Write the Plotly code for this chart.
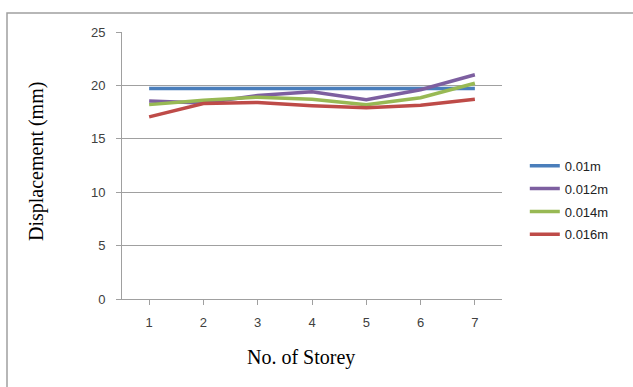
import plotly.graph_objects as go

storeys = [1, 2, 3, 4, 5, 6, 7]
series_names = ["0.01m", "0.012m", "0.014m", "0.016m"]
disp_001 = [19.7, 19.7, 19.7, 19.7, 19.7, 19.7, 19.7]
disp_0012 = [18.55, 18.35, 19.05, 19.4, 18.65, 19.6, 21.0]
disp_0014 = [18.2, 18.6, 18.9, 18.7, 18.2, 18.85, 20.2]
disp_0016 = [17.05, 18.3, 18.4, 18.1, 17.9, 18.15, 18.7]
colors = ["#4a7ebb", "#7d5fa0", "#98b954", "#be4b48"]
y_ticks = [0, 5, 10, 15, 20, 25]

fig = go.Figure()
for name, vals, col in zip(series_names, [disp_001, disp_0012, disp_0014, disp_0016], colors):
    fig.add_trace(go.Scatter(
        x=[str(s) for s in storeys], y=vals, mode="lines", name=name,
        legendgroup=name, line=dict(color=col, width=3.5),
    ))

axis_font = dict(family="Liberation Sans, Arial, sans-serif", size=13, color="#404040")
title_font = dict(family="Liberation Serif, Times New Roman, serif", size=20, color="#000000")

fig.update_layout(
    width=633, height=387,
    margin=dict(l=122, r=131, t=32, b=88),
    paper_bgcolor="white", plot_bgcolor="white",
    showlegend=True,
    legend=dict(
        x=1.06, y=0.37, xanchor="left", yanchor="middle",
        font=dict(family="Liberation Sans, Arial, sans-serif", size=13, color="#222222"),
        itemwidth=30, tracegroupgap=3, bgcolor="rgba(0,0,0,0)",
    ),
    xaxis=dict(
        type="category", showgrid=False, showline=True, linecolor="#a0a0a0", linewidth=1,
        ticks="outside", ticklen=5, tickcolor="#a0a0a0", tickfont=axis_font,
        ticklabelstandoff=6, range=[-0.5, 6.5], fixedrange=True,
    ),
    yaxis=dict(
        range=[0, 25], tickvals=y_ticks, showgrid=True, gridcolor="#a0a0a0", gridwidth=1,
        showline=True, linecolor="#a0a0a0", linewidth=1, zeroline=False,
        ticks="outside", ticklen=5, tickcolor="#a0a0a0", tickfont=axis_font,
        ticklabelstandoff=8,
    ),
    annotations=[
        dict(text="No. of Storey", xref="paper", yref="paper",
             x=(301 - 122) / 380, y=(299 - 357) / 267, xanchor="center", yanchor="middle",
             showarrow=False, font=title_font),
        dict(text="Displacement (mm)", xref="paper", yref="paper",
             x=(36 - 122) / 380, y=(299 - 162) / 267, xanchor="center", yanchor="middle",
             textangle=-90, showarrow=False, font=title_font),
    ],
    shapes=[dict(
        type="rect", xref="paper", yref="paper",
        x0=(7 - 122) / 380, x1=1.5, y0=-0.5, y1=(299 - 13) / 267,
        line=dict(color="#a0a0a0", width=1.5), fillcolor="rgba(0,0,0,0)", layer="below",
    )],
)

fig.write_html("out.html")
